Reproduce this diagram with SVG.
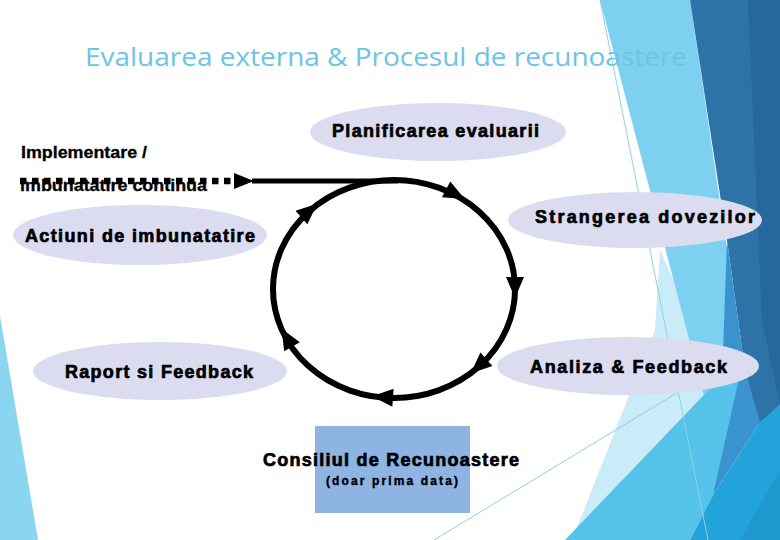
<svg xmlns="http://www.w3.org/2000/svg" width="780" height="540" viewBox="0 0 780 540">
<style>
.node-shape{fill:#dcdcf1;stroke:none}
.lbl{font-family:"Liberation Sans",Arial,sans-serif;font-weight:bold;font-size:18px;fill:#000;stroke:#000;stroke-width:0.7}
.side{font-family:"Liberation Sans",Arial,sans-serif;font-weight:bold;font-size:16px;fill:#000;stroke:#000;stroke-width:0.3}
.title{font-family:"Open Sans","Liberation Sans",sans-serif;font-size:25px;fill:#6cc5e3}
.thin{stroke:#8fd0e2;stroke-width:1;fill:none}
.ah{fill:#000}
</style>
<rect x="0" y="0" width="780" height="540" fill="#ffffff"/>
<g id="background">
  <polygon points="0,316 38,540 0,540" fill="#8ad6f0"/>
  <polygon points="660,250 705,350 725,385 600,540 572,540 655,330" fill="#c9ecf8"/>
  <polygon points="600,0 690,0 745,370 740,420 705,400" fill="#7dd0ef"/>
  <polygon points="690,0 780,0 780,405 758,425 745,370 727,240" fill="#2e73a7"/>
  <polygon points="748,0 780,0 780,405 762,320" fill="#26679d"/>
  <polygon points="727,240 745,370 760,422 713,495 722,380" fill="#3a92ce"/>
  <polygon points="565,540 745,352 713,495 690,540" fill="#55c2ea"/>
  <polygon points="690,540 713,495 760,422 780,405 780,540" fill="#22a3da"/>
  <polygon points="740,540 780,470 780,540" fill="#1f97cf"/>
  <line class="thin" x1="600" y1="0" x2="708" y2="540"/>
  <line class="thin" x1="434" y1="540" x2="690" y2="385"/>
</g>
<text id="title" class="title" x="85" y="66" textLength="602" lengthAdjust="spacingAndGlyphs">Evaluarea externa &amp; Procesul de recunoastere</text>
<g id="connectors">
  <ellipse cx="394" cy="289" rx="121" ry="109" fill="none" stroke="#000" stroke-width="6"/>
  <line x1="20" y1="181" x2="234" y2="181" stroke="#000" stroke-width="6.5" stroke-dasharray="6.5 5.5"/>
  <polygon class="ah" points="234,173 254,181 234,189"/>
  <line x1="252" y1="181" x2="398" y2="181" stroke="#000" stroke-width="5"/>
  <polygon class="ah" points="11,0 -10,-9 -10,9" transform="translate(455,194) rotate(27.5)"/>
  <polygon class="ah" points="11,0 -10,-9 -10,9" transform="translate(515,287) rotate(90)"/>
  <polygon class="ah" points="11,0 -10,-9 -10,9" transform="translate(479,366) rotate(138)"/>
  <polygon class="ah" points="11,0 -10,-9 -10,9" transform="translate(383,397) rotate(184)"/>
  <polygon class="ah" points="11,0 -10,-9 -10,9" transform="translate(287,338) rotate(240)"/>
  <polygon class="ah" points="11,0 -10,-9 -10,9" transform="translate(309,211) rotate(-41)"/>
</g>
<g id="implementare">
  <text class="side" x="21" y="158" textLength="126" lengthAdjust="spacingAndGlyphs">Implementare /</text>
  <text class="side" x="20" y="191" textLength="187" lengthAdjust="spacingAndGlyphs">imbunatatire continua</text>
</g>
<g id="planificarea">
  <ellipse class="node-shape" cx="438" cy="132" rx="128" ry="29"/>
  <text class="lbl" x="332" y="137" textLength="207" lengthAdjust="spacing">Planificarea evaluarii</text>
</g>
<g id="strangerea">
  <ellipse class="node-shape" cx="635" cy="220" rx="127" ry="28"/>
  <text class="lbl" x="535" y="223" textLength="220" lengthAdjust="spacing">Strangerea dovezilor</text>
</g>
<g id="actiuni">
  <ellipse class="node-shape" cx="140" cy="235" rx="127" ry="30"/>
  <text class="lbl" x="25" y="242" textLength="230" lengthAdjust="spacing">Actiuni de imbunatatire</text>
</g>
<g id="raport">
  <ellipse class="node-shape" cx="160" cy="371" rx="127" ry="29"/>
  <text class="lbl" x="65" y="378" textLength="188" lengthAdjust="spacing">Raport si Feedback</text>
</g>
<g id="analiza">
  <ellipse class="node-shape" cx="628" cy="366" rx="131" ry="29"/>
  <text class="lbl" x="530" y="373" textLength="197" lengthAdjust="spacing">Analiza &amp; Feedback</text>
</g>
<g id="consiliul">
  <rect x="315" y="426" width="155" height="87" fill="#8db4e2"/>
  <text class="lbl" x="263" y="466" textLength="256" lengthAdjust="spacing">Consiliul de Recunoastere</text>
  <text class="lbl" x="326" y="485" style="font-size:12px;stroke-width:0.4" textLength="132" lengthAdjust="spacing">(doar prima data)</text>
</g>
</svg>
